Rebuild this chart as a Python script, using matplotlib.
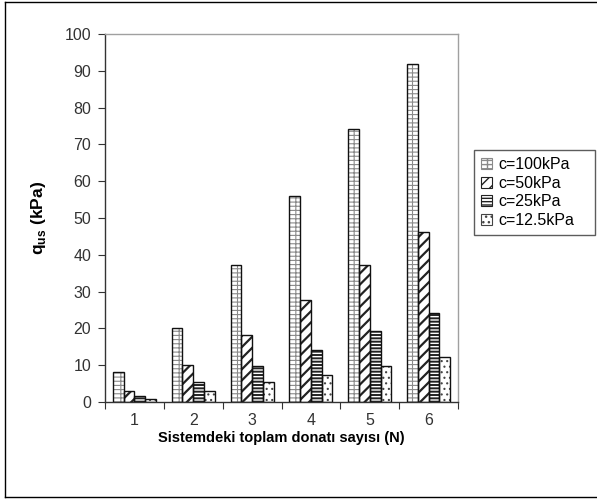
import matplotlib
matplotlib.use("Agg")
import matplotlib.pyplot as plt
from matplotlib.patches import Patch
from matplotlib.lines import Line2D
import numpy as np

plt.rcParams['font.family'] = ['Liberation Sans', 'DejaVu Sans']

categories = ['1', '2', '3', '4', '5', '6']
series_names = ['c=100kPa', 'c=50kPa', 'c=25kPa', 'c=12.5kPa']
v100 = [8.2, 20.2, 37.1, 56.1, 74.2, 91.9]
v50 = [2.9, 10.0, 18.1, 27.7, 37.1, 46.1]
v25 = [1.5, 5.4, 9.7, 14.1, 19.3, 24.3]
v12 = [0.7, 2.9, 5.4, 7.3, 9.7, 12.2]
series_vals = [v100, v50, v25, v12]
y_ticks = [0, 10, 20, 30, 40, 50, 60, 70, 80, 90, 100]

hatches = ['----||', '///', '-----', '...']
hatch_colors = ['#8a8a8a', '#222222', '#222222', '#444444']
hatch_lw = [0.8, 1.6, 1.4, 0.8]

fig = plt.figure(figsize=(5.97, 4.99), dpi=100)
ax = fig.add_axes([105/597, 1-402/499, (458-105)/597, (402-34)/499])

x = np.arange(len(categories))
bw = 0.183
offsets = (np.arange(4) - 1.5) * bw
handles = []
for i, (name, vals) in enumerate(zip(series_names, series_vals)):
    with plt.rc_context({'hatch.linewidth': hatch_lw[i]}):
        ax.bar(x + offsets[i], vals, bw, color='white', edgecolor=hatch_colors[i],
               hatch=hatches[i], linewidth=0, zorder=2)
        handles.append(Patch(facecolor='white', edgecolor=hatch_colors[i],
                             hatch=hatches[i], linewidth=0.8, label=name))
    ax.bar(x + offsets[i], vals, bw, fill=False, edgecolor='#111111',
           linewidth=1.0, zorder=3)

ax.set_xlim(-0.5, len(categories) - 0.5)
ax.set_ylim(0, 100)
ax.set_yticks(y_ticks)
ax.set_yticklabels([str(t) for t in y_ticks], fontsize=11.5, color='#333333')
ax.set_xticks(np.arange(len(categories) + 1) - 0.5)
ax.set_xticklabels([''] * (len(categories) + 1))
ax.set_xticks(x, minor=True)
ax.set_xticklabels(categories, minor=True, fontsize=11.5, color='#333333')
ax.tick_params(axis='x', which='minor', length=0, pad=8)
ax.tick_params(axis='x', which='major', length=5, direction='out', color='#333333')
ax.tick_params(axis='y', length=5, direction='out', color='#333333', pad=5)

for s in ['top', 'right']:
    ax.spines[s].set_color('#a0a0a0')
    ax.spines[s].set_linewidth(1.0)
for s in ['left', 'bottom']:
    ax.spines[s].set_color('#333333')
    ax.spines[s].set_linewidth(1.0)

ax.set_xlabel('Sistemdeki toplam donatı sayısı (N)', fontsize=10.5,
              fontweight='bold', labelpad=2)
ax.set_ylabel(r'q$_{\mathregular{us}}$ (kPa)', fontsize=12.5, fontweight='bold',
              labelpad=12)

leg = fig.legend(handles=handles, loc='upper left', mode='expand',
                 bbox_to_anchor=(474/597, 1-150/499, (595-474)/597, 0.0),
                 fontsize=11.5, frameon=True, fancybox=False, edgecolor='#333333',
                 handlelength=0.7, handleheight=0.7, handletextpad=0.4,
                 labelspacing=0.22, borderpad=0.45, borderaxespad=0)
leg.get_frame().set_linewidth(1.0)

# outer chart frame
fig.add_artist(Line2D([5/597, 5/597], [1-2/499, 1-497/499], color='black', lw=1.0))
fig.add_artist(Line2D([5/597, 1], [1-2/499, 1-2/499], color='black', lw=1.0))
fig.add_artist(Line2D([5/597, 1], [1-497/499, 1-497/499], color='black', lw=1.0))

fig.savefig('out.png', dpi=100)
